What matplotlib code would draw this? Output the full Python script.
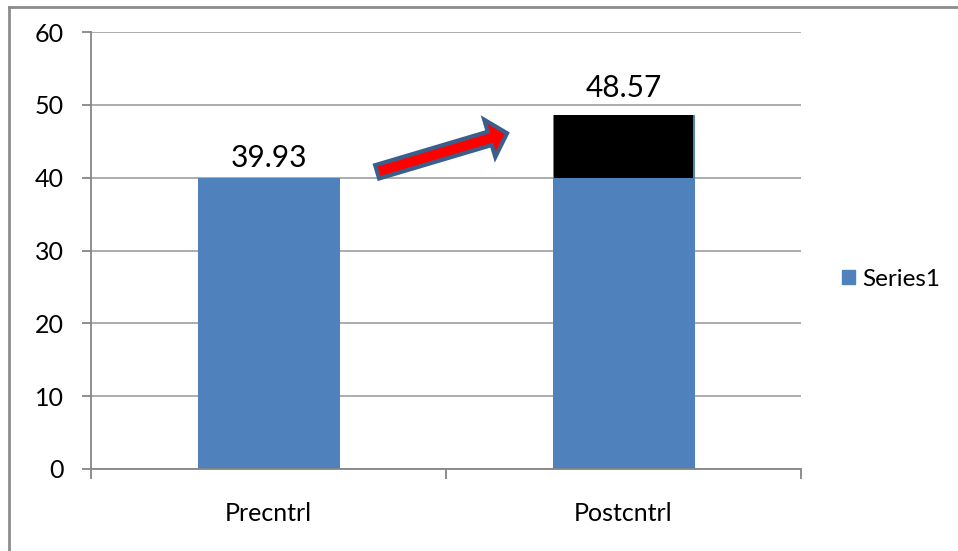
import matplotlib
matplotlib.use("Agg")
import matplotlib.pyplot as plt
import matplotlib.patches as mpatches
from matplotlib.lines import Line2D

categories = ["Precntrl", "Postcntrl"]
values = [39.93, 48.57]
labels = ["39.93", "48.57"]
yticks = [0, 10, 20, 30, 40, 50, 60]
series_name = "Series1"

BLUE = "#4F81BD"
GRID = "#A6A6A6"
AXIS = "#868686"
FONT = ["Lato", "DejaVu Sans"]
LABEL_GAP = [1.5, 2.5]

fig = plt.figure(figsize=(9.58, 5.51), dpi=100)
ax = fig.add_axes([91/958, 1-469/551, (801-91)/958, (469-32)/551])

x = list(range(len(categories)))
ax.bar(x, values, width=0.4, color=BLUE, zorder=2)
# black increment block on the second bar
ax.bar([x[1]], [values[1]-values[0]], bottom=[values[0]], width=0.39,
       color="black", zorder=3)

for xi, v, t, g in zip(x, values, labels, LABEL_GAP):
    ax.text(xi, v + g, t, ha="center", va="baseline", fontsize=21.5,
            family=FONT, color="black")

ax.set_xlim(-0.5, 1.5)
ax.set_ylim(0, 60)
ax.set_yticks(yticks)
ax.set_yticklabels([str(t) for t in yticks], family=FONT, fontsize=18)
ax.yaxis.grid(True, color=GRID, lw=1.3, zorder=0)
ax.set_axisbelow(True)

ax.set_xticks([-0.5, 0.5, 1.5])
ax.set_xticklabels([])
ax.set_xticks(x, minor=True)
ax.set_xticklabels(categories, minor=True, family=FONT, fontsize=18)
ax.tick_params(axis="x", which="major", length=7, color=AXIS, width=1.3)
ax.tick_params(axis="x", which="minor", length=0, pad=24)
ax.tick_params(axis="y", length=6.5, color=AXIS, width=1.3, pad=13)

for s in ["top", "right"]:
    ax.spines[s].set_visible(False)
for s in ["left", "bottom"]:
    ax.spines[s].set_color(AXIS)
    ax.spines[s].set_linewidth(1.3)

# arrow
arrow = mpatches.FancyArrowPatch(
    (0.306, 40.8), (0.672, 46.1),
    arrowstyle="simple,head_length=13,head_width=28,tail_width=10",
    mutation_scale=1, shrinkA=0, shrinkB=0,
    facecolor="#FF0000", edgecolor="#3A5F8B", lw=3, zorder=5,
    joinstyle="miter")
ax.add_patch(arrow)

# legend
handle = mpatches.Patch(color=BLUE, label=series_name)
leg = fig.legend(handles=[handle], loc="center left",
                 bbox_to_anchor=(820/958, 1-279/551), frameon=False,
                 prop={"family": FONT, "size": 17.5},
                 handlelength=0.55, handleheight=0.55, handletextpad=0.3)

# outer chart border (top and left visible)
fig.add_artist(Line2D([9/958, 1], [1-7/551, 1-7/551], color="#8C8C8C", lw=2,
                      transform=fig.transFigure))
fig.add_artist(Line2D([9/958, 9/958], [0, 1-7/551], color="#8C8C8C", lw=2,
                      transform=fig.transFigure))

fig.savefig("out.png", dpi=100)
